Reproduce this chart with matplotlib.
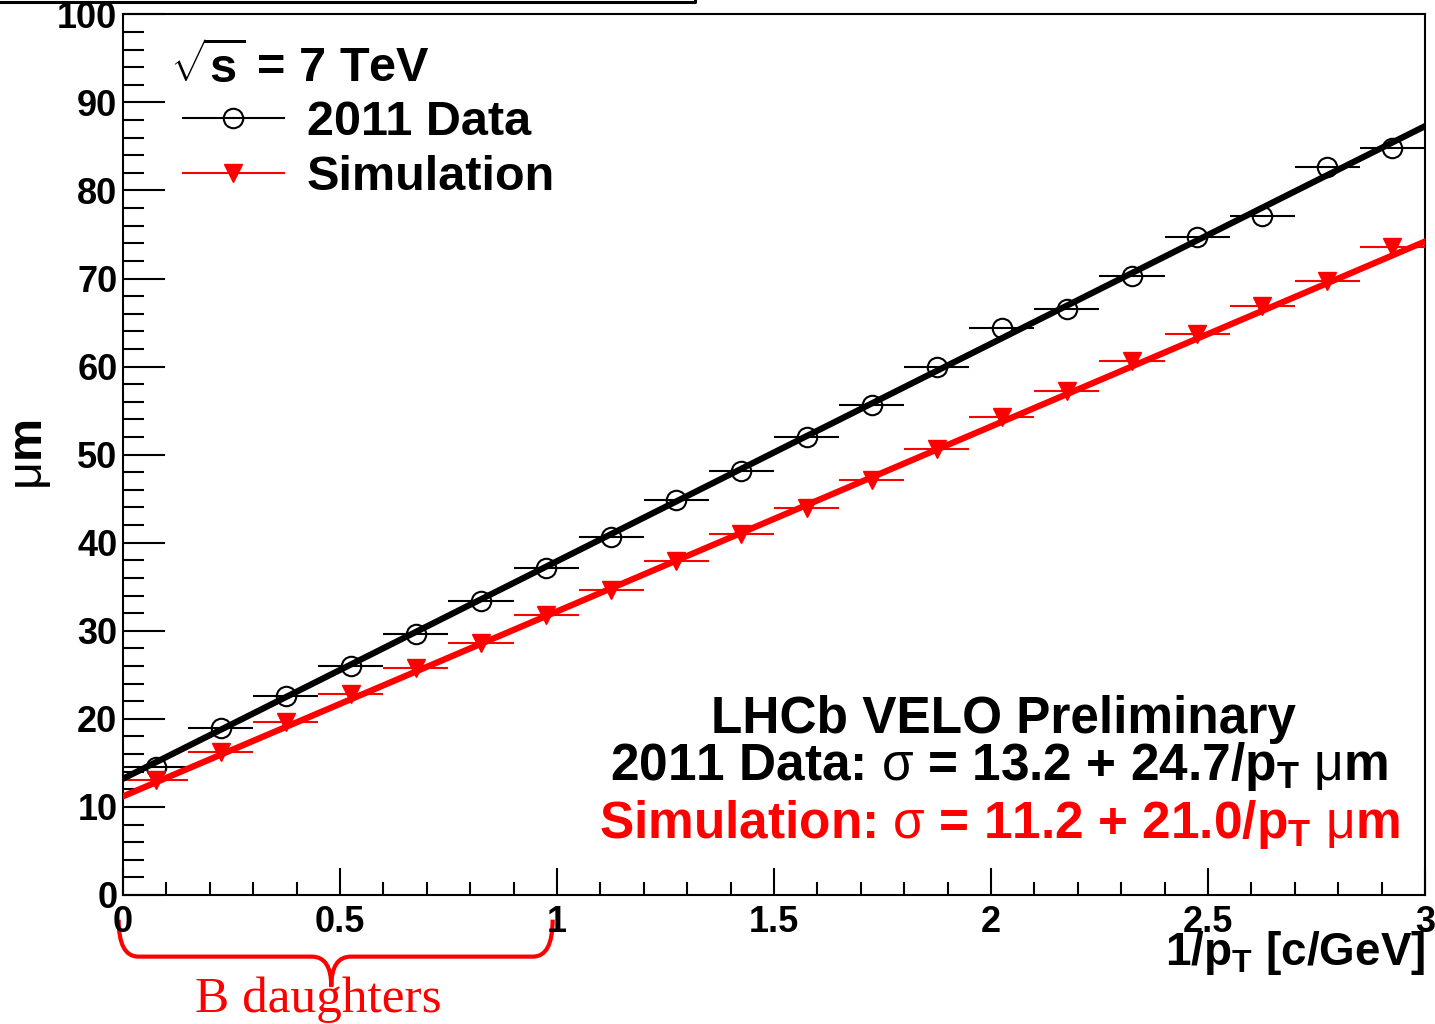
import matplotlib
matplotlib.use('Agg')
import matplotlib.pyplot as plt
import numpy as np
from matplotlib.lines import Line2D
from matplotlib.path import Path
from matplotlib.patches import PathPatch
from matplotlib.transforms import blended_transform_factory
from matplotlib.ticker import MultipleLocator

# fonts: bold sans for the ROOT look, thin greek letters in the math parts
plt.rcParams['font.family'] = 'Liberation Sans'
plt.rcParams['font.weight'] = 'bold'
plt.rcParams['mathtext.fontset'] = 'custom'
plt.rcParams['mathtext.rm'] = 'Liberation Sans:bold'
plt.rcParams['mathtext.bf'] = 'Liberation Sans:bold'
plt.rcParams['mathtext.it'] = 'Liberation Sans:weight=normal'

# ---- data: IP resolution vs 1/pT ----
inv_pt = [0.075, 0.225, 0.375, 0.525, 0.675, 0.825, 0.975, 1.125, 1.275, 1.425,
          1.575, 1.725, 1.875, 2.025, 2.175, 2.325, 2.475, 2.625, 2.775, 2.925]
bin_half_width = 0.075
data_2011 = [14.5, 19.0, 22.6, 26.0, 29.6, 33.4, 37.1, 40.6, 44.8, 48.2,
             52.0, 55.6, 59.9, 64.4, 66.5, 70.3, 74.7, 77.1, 82.7, 84.8]
simulation = [13.1, 16.2, 19.6, 22.8, 25.8, 28.6, 31.8, 34.6, 37.9, 41.0,
              43.9, 47.1, 50.6, 54.3, 57.2, 60.6, 63.7, 66.9, 69.7, 73.6]

# linear fit parameters sigma = a + b/pT
fit_data = (13.2, 24.7)
fit_sim = (11.2, 21.0)

fig = plt.figure(figsize=(14.35, 10.24), dpi=100)
ax = fig.add_axes([0.0857, 0.126, 0.9073, 0.860])

xerr = [bin_half_width] * len(inv_pt)

# points with horizontal bin-width bars
ax.errorbar(inv_pt, data_2011, xerr=xerr, fmt='o', color='black', mfc='none',
            mec='black', ms=14, mew=1.5, elinewidth=1.5, capsize=0, zorder=3)
ax.errorbar(inv_pt, simulation, xerr=xerr, fmt='v', color='red', mfc='red',
            mec='red', ms=13, elinewidth=1.5, capsize=0, zorder=3)

# fit lines across the whole range
xfit = np.array([0.0, 3.0])
ax.plot(xfit, fit_data[0] + fit_data[1] * xfit, color='black', lw=4.5, zorder=4)
ax.plot(xfit, fit_sim[0] + fit_sim[1] * xfit, color='red', lw=4.5, zorder=4)

ax.set_xlim(0, 3)
ax.set_ylim(0, 100)

ax.xaxis.set_major_locator(MultipleLocator(0.5))
ax.xaxis.set_minor_locator(MultipleLocator(0.1))
ax.yaxis.set_major_locator(MultipleLocator(10))
ax.yaxis.set_minor_locator(MultipleLocator(2))
ax.set_xticks([0, 0.5, 1, 1.5, 2, 2.5, 3])
ax.set_xticklabels(['0', '0.5', '1', '1.5', '2', '2.5', '3'])

ax.tick_params(axis='x', which='major', direction='in', length=19.5, width=1.5,
               labelsize=26, pad=7, top=False)
ax.tick_params(axis='x', which='minor', direction='in', length=9.5, width=1.5, top=False)
ax.tick_params(axis='y', which='major', direction='in', length=30, width=1.5,
               labelsize=26, pad=4, right=False)
ax.tick_params(axis='y', which='minor', direction='in', length=15, width=1.5, right=False)
for lab in ax.get_xticklabels() + ax.get_yticklabels():
    lab.set_fontweight('bold')

for s in ax.spines.values():
    s.set_linewidth(1.5)

# axis titles
ax.text(1.0, -0.080, r'1/p$_\mathbf{T}$ [c/GeV]', transform=ax.transAxes,
        ha='right', va='baseline', fontsize=33, fontweight='bold')
ax.text(-0.0714, 0.50, r'$\mu$m', transform=ax.transAxes, rotation=90,
        ha='center', va='center', fontsize=35, fontweight='bold')

# legend drawn by hand, ROOT style
ax.text(0.0361, 0.9217, r'$\sqrt{\mathbf{s}}$ = 7 TeV', transform=ax.transAxes,
        ha='left', va='baseline', fontsize=35, fontweight='bold')
ax.add_line(Line2D([0.0461, 0.1237], [0.882, 0.882], color='black', lw=1.5,
                   transform=ax.transAxes))
ax.add_line(Line2D([0.0845], [0.882], marker='o', mfc='none', mec='black', ms=14,
                   mew=1.5, transform=ax.transAxes))
ax.text(0.1413, 0.8627, '2011 Data', transform=ax.transAxes, ha='left',
        va='baseline', fontsize=35, fontweight='bold')
ax.add_line(Line2D([0.0461, 0.1237], [0.8195, 0.8195], color='red', lw=1.5,
                   transform=ax.transAxes))
ax.add_line(Line2D([0.0845], [0.8195], marker='v', mfc='red', mec='red', ms=13,
                   transform=ax.transAxes))
ax.text(0.1413, 0.8002, 'Simulation', transform=ax.transAxes, ha='left',
        va='baseline', fontsize=35, fontweight='bold')

# fit results
ax.text(0.676, 0.1839, 'LHCb VELO Preliminary', transform=ax.transAxes,
        ha='center', va='baseline', fontsize=37, fontweight='bold')
ax.text(0.673, 0.1305,
        r'2011 Data: $\sigma$ = %.1f + %.1f/p$_\mathbf{T}$ $\mu$m' % fit_data,
        transform=ax.transAxes, ha='center', va='baseline', fontsize=37,
        fontweight='bold')
ax.text(0.673, 0.065,
        r'Simulation: $\sigma$ = %.1f + %.1f/p$_\mathbf{T}$ $\mu$m' % fit_sim,
        transform=ax.transAxes, ha='center', va='baseline', fontsize=37,
        fontweight='bold', color='red')

# curly brace under 0 < 1/pT < 1
trans = blended_transform_factory(ax.transData, ax.transAxes)
x0, x1, xm = -0.01, 0.99, 0.48
ytop, ymid, ytip = -0.028, -0.070, -0.104
verts = [(x0, ytop), (x0, ymid), (x0 + 0.045, ymid),
         (xm - 0.045, ymid),
         (xm, ymid), (xm, ytip),
         (xm, ymid), (xm + 0.045, ymid),
         (x1 - 0.045, ymid),
         (x1, ymid), (x1, ytop)]
codes = [Path.MOVETO, Path.CURVE3, Path.CURVE3,
         Path.LINETO,
         Path.CURVE3, Path.CURVE3,
         Path.CURVE3, Path.CURVE3,
         Path.LINETO,
         Path.CURVE3, Path.CURVE3]
brace = PathPatch(Path(verts, codes), fill=False, edgecolor='red', lw=3,
                  transform=trans, clip_on=False)
ax.add_patch(brace)
fig.text(0.2216, 0.0117, 'B daughters', ha='center', va='baseline', fontsize=37,
         color='red', fontweight='normal', family='Liberation Serif')

# edge of the panel above
fig.add_artist(Line2D([0.0, 0.4843, 0.4843], [0.998, 0.998, 1.0], color='black',
                      lw=2.2, transform=fig.transFigure))

fig.savefig('out.png', dpi=100)
